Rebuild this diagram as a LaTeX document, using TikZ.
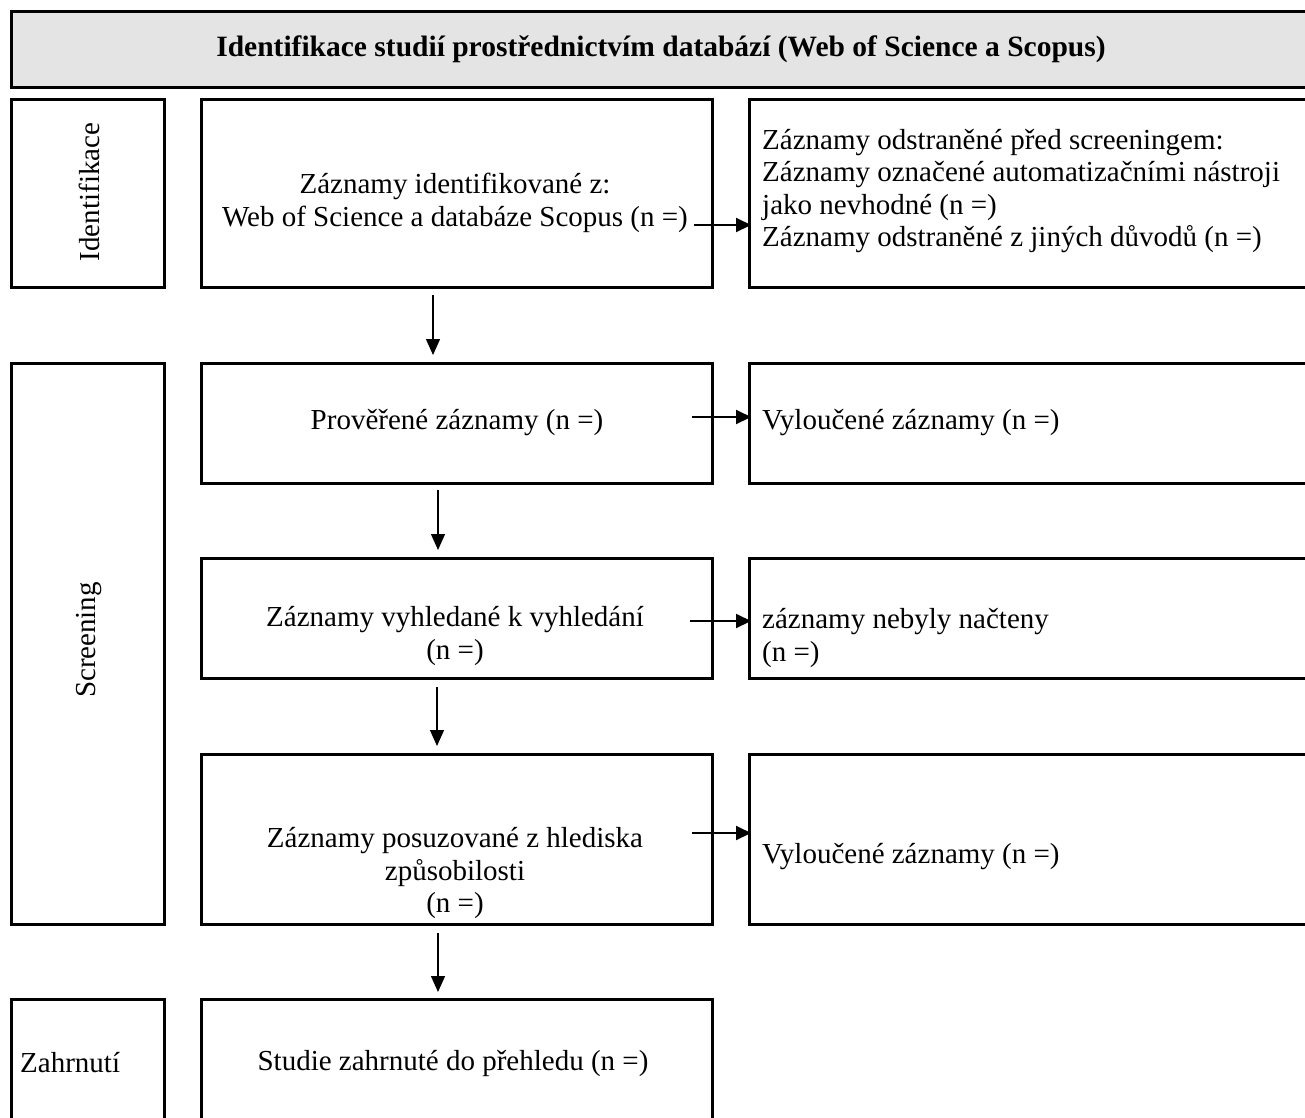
\documentclass[tikz,border=0pt]{standalone}
\usepackage{fontspec}
\setmainfont{Liberation Serif}
\usetikzlibrary{arrows.meta}
\begin{document}
\begin{tikzpicture}[x=1pt,y=-1pt,
  box/.style={draw, line width=2.5pt, inner sep=0pt, anchor=north west},
  lbl/.style={inner sep=0pt, font=\fontsize{29}{32.5}\selectfont},
  arr/.style={line width=1.3pt, -{Triangle[length=16pt,width=14pt]}},
  harr/.style={line width=2pt, -{Triangle[length=15pt,width=14pt]}, shorten >=-3pt}]
\useasboundingbox (0,0) rectangle (1305,1117);
% header
\node[box, fill={rgb,255:red,228;green,228;blue,228}, minimum width=1320pt, minimum height=76pt] (hdr) at (10,10) {};
\node[lbl, font=\fontsize{29.5}{33}\selectfont\bfseries] (hdrt) at (661,49) {Identifikace studií prostřednictvím databází (Web of Science a Scopus)};
% side boxes
\node[box, minimum width=153pt, minimum height=188pt] (s1) at (10,98) {};
\node[box, minimum width=153pt, minimum height=561pt] (s2) at (10,362) {};
\node[box, minimum width=153pt, minimum height=140pt] (s3) at (10,998) {};
\node[lbl, rotate=90] (s1t) at (89,192) {Identifikace};
\node[lbl, rotate=90] (s2t) at (89,640) {Screening};
\node[lbl, anchor=west] (s3t) at (20,1063) {Zahrnutí};
% main column
\node[box, minimum width=511pt, minimum height=188pt] (b1) at (200,98) {};
\node[box, minimum width=511pt, minimum height=120pt] (b2) at (200,362) {};
\node[box, minimum width=511pt, minimum height=120pt] (b3) at (200,557) {};
\node[box, minimum width=511pt, minimum height=170pt] (b4) at (200,753) {};
\node[box, minimum width=511pt, minimum height=140pt] (b5) at (200,998) {};
\node[lbl, align=center] (b1t) at (455,203) {Záznamy identifikované z:\\Web of Science a databáze Scopus (n =)};
\node[lbl] (b2t) at (457,423) {Prověřené záznamy (n =)};
\node[lbl, align=center] (b3t) at (455,636) {Záznamy vyhledané k vyhledání\\(n =)};
\node[lbl, align=center] (b4t) at (455,873) {Záznamy posuzované z hlediska\\způsobilosti\\(n =)};
\node[lbl] (b5t) at (453,1063) {Studie zahrnuté do přehledu (n =)};
% right column
\node[box, minimum width=580pt, minimum height=188pt] (r1) at (748,98) {};
\node[box, minimum width=580pt, minimum height=120pt] (r2) at (748,362) {};
\node[box, minimum width=580pt, minimum height=120pt] (r3) at (748,557) {};
\node[box, minimum width=580pt, minimum height=170pt] (r4) at (748,753) {};
\node[lbl, align=left, anchor=west] (r1t) at (762,191) {Záznamy odstraněné před screeningem:\\Záznamy označené automatizačními nástroji\\jako nevhodné (n =)\\Záznamy odstraněné z jiných důvodů (n =)};
\node[lbl, anchor=west] (r2t) at (762,423) {Vyloučené záznamy (n =)};
\node[lbl, align=left, anchor=west] (r3t) at (762,638) {záznamy nebyly načteny\\(n =)};
\node[lbl, anchor=west] (r4t) at (762,857) {Vyloučené záznamy (n =)};
% horizontal arrows
\coordinate (h1) at (694,225);
\coordinate (h2) at (692,417);
\coordinate (h3) at (690,621);
\coordinate (h4) at (692,833);
\draw[harr] (h1) -- (h1 -| r1.west);
\draw[harr] (h2) -- (h2 -| r2.west);
\draw[harr] (h3) -- (h3 -| r3.west);
\draw[harr] (h4) -- (h4 -| r4.west);
% vertical arrows
\coordinate (v1) at (433,295);
\coordinate (v2) at (438,490);
\coordinate (v3) at (437,687);
\coordinate (v4) at (438,933);
\draw[arr, shorten >=7pt] (v1) -- (v1 |- b2.north);
\draw[arr, shorten >=7pt] (v2) -- (v2 |- b3.north);
\draw[arr, shorten >=7pt] (v3) -- (v3 |- b4.north);
\draw[arr, shorten >=6pt] (v4) -- (v4 |- b5.north);
\end{tikzpicture}
\end{document}
